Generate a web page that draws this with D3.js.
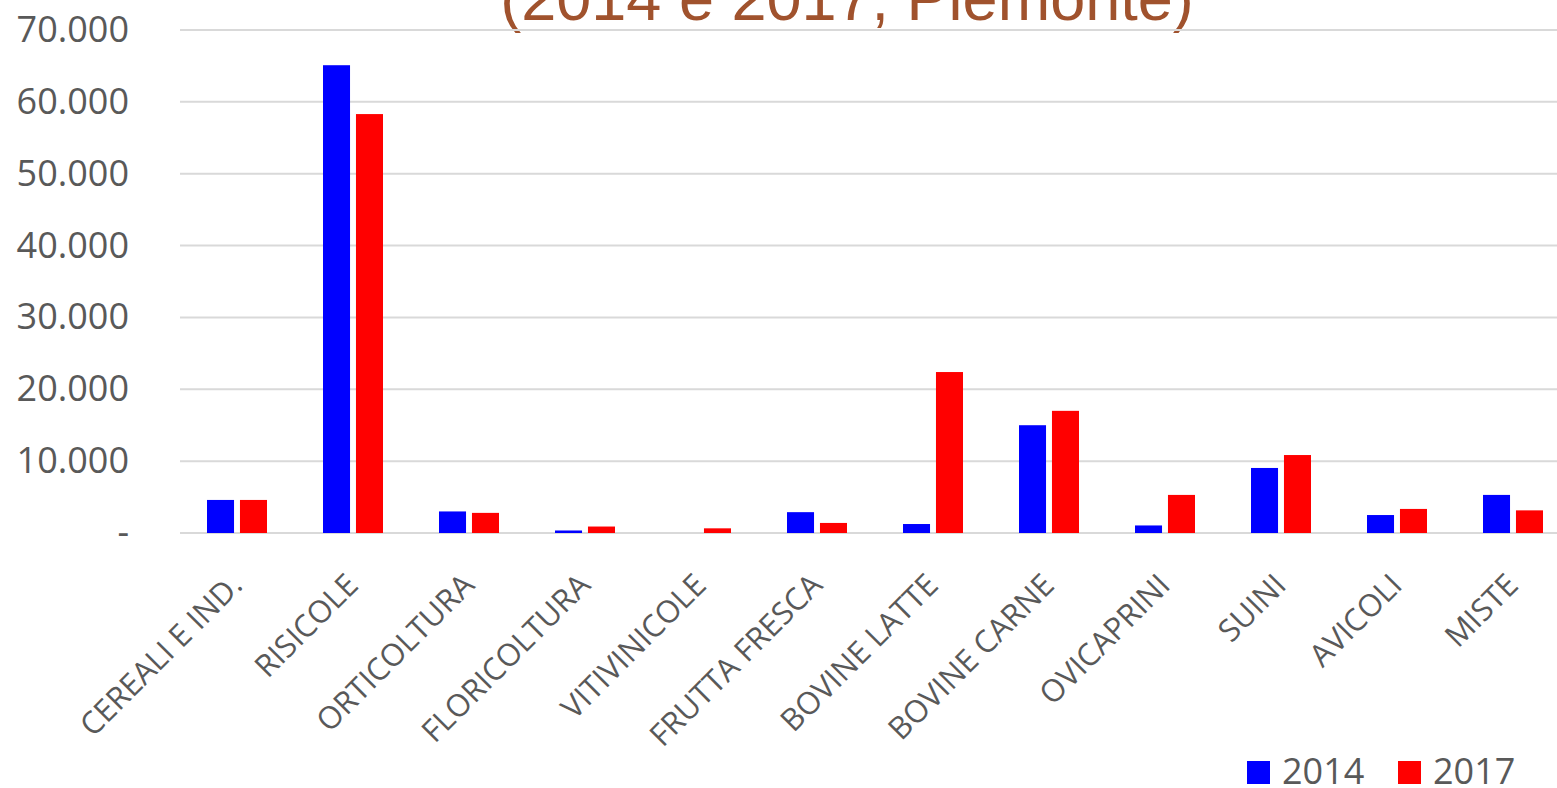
<!DOCTYPE html>
<html>
<head>
<meta charset="utf-8">
<script src="https://cdn.jsdelivr.net/npm/d3@7"></script>
<style>
  body { margin: 0; background: #fff; }
  text { font-family: "Open Sans", "Liberation Sans", Arial, sans-serif; }
</style>
</head>
<body>
<svg id="chart" width="1557" height="788"></svg>
<script>
var categories = ['CEREALI E IND.', 'RISICOLE', 'ORTICOLTURA', 'FLORICOLTURA', 'VITIVINICOLE',
  'FRUTTA FRESCA', 'BOVINE LATTE', 'BOVINE CARNE', 'OVICAPRINI', 'SUINI', 'AVICOLI', 'MISTE'];
var seriesNames = ['2014', '2017'];
var values2014 = [4600, 65100, 3000, 350, 0, 2900, 1250, 15000, 1050, 9050, 2500, 5300];
var values2017 = [4600, 58300, 2800, 900, 650, 1400, 22400, 17000, 5300, 10850, 3350, 3150];
var yTicks = [0, 10000, 20000, 30000, 40000, 50000, 60000, 70000];
var colors = ['#0000ff', '#ff0000'];

var svg = d3.select('#chart');
var grey = '#595959';
var labelFont = '"Open Sans", "Liberation Sans", Arial, sans-serif';

var x0 = d3.scaleBand().domain(categories).range([179, 1571]).padding(0);
var x1 = d3.scaleBand().domain(seriesNames)
  .range([x0.bandwidth() / 2 - 30, x0.bandwidth() / 2 + 30])
  .paddingInner(0.18);
var y = d3.scaleLinear().domain([0, 70000]).range([533, 30]);

var fmt = function (v) {
  if (v === 0) return '-';
  return d3.format(',')(v).replace(/,/g, '.');
};

// title (clipped at top)
svg.append('text')
  .attr('x', 847)
  .attr('y', 20)
  .attr('text-anchor', 'middle')
  .attr('fill', '#a0522d')
  .style('font-family', '"Liberation Sans", Arial, sans-serif')
  .style('font-size', '63px')
  .text('(2014 e 2017, Piemonte)');

// gridlines
svg.append('g').selectAll('line')
  .data(yTicks)
  .enter().append('line')
  .attr('x1', 180).attr('x2', 1557)
  .attr('y1', function (d) { return y(d); })
  .attr('y2', function (d) { return y(d); })
  .attr('stroke', '#d9d9d9')
  .attr('stroke-width', 2);

// y axis labels
var yAxis = d3.axisLeft(y).tickValues(yTicks).tickFormat(fmt).tickSize(0).tickPadding(0);
var yg = svg.append('g').attr('transform', 'translate(129,0)').call(yAxis);
yg.select('.domain').remove();
yg.selectAll('text')
  .attr('fill', grey)
  .style('font-size', '36px')
  .style('font-family', labelFont);

// bars
var rows = categories.map(function (c, i) {
  return { cat: c, vals: [values2014[i], values2017[i]] };
});

var groups = svg.append('g').selectAll('g')
  .data(rows)
  .enter().append('g')
  .attr('transform', function (d) { return 'translate(' + x0(d.cat) + ',0)'; });

groups.selectAll('rect')
  .data(function (d) { return d.vals.map(function (v, k) { return { key: seriesNames[k], v: v, k: k }; }); })
  .enter().append('rect')
  .attr('x', function (d) { return x1(d.key); })
  .attr('width', x1.bandwidth())
  .attr('y', function (d) { return y(d.v); })
  .attr('height', function (d) { return y(0) - y(d.v); })
  .attr('fill', function (d) { return colors[d.k]; });

// x labels
var xAxis = d3.axisBottom(x0).tickSize(0).tickPadding(0);
var xg = svg.append('g').attr('transform', 'translate(0,533)').call(xAxis);
xg.select('.domain').remove();
xg.selectAll('text')
  .attr('fill', grey)
  .attr('dy', null)
  .attr('y', 0)
  .style('font-size', '31px')
  .style('font-family', labelFont)
  .attr('text-anchor', 'end')
  .attr('transform', 'translate(7,54) rotate(-45)');

// legend
var legend = svg.append('g');
var legendX = [1247, 1398];
seriesNames.forEach(function (s, k) {
  legend.append('rect')
    .attr('x', legendX[k]).attr('y', 761)
    .attr('width', 23).attr('height', 23)
    .attr('fill', colors[k]);
  legend.append('text')
    .attr('x', legendX[k] + 35).attr('y', 784)
    .attr('fill', grey)
    .style('font-size', '36px')
    .text(s);
});
</script>
</body>
</html>
